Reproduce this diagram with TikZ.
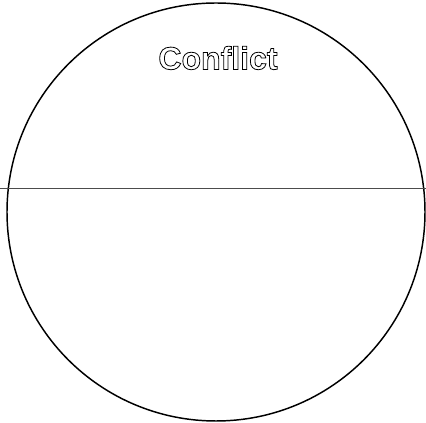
\documentclass[tikz,border=0pt]{standalone}
\usepackage{fontspec}
\setmainfont{Liberation Sans}
\usepackage{tikz}
\usetikzlibrary{positioning}

\newcommand{\hollowtext}[1]{\special{pdf:literal direct 1 Tr 0.6 w}#1\special{pdf:literal direct 0 Tr}}

\begin{document}
\begin{tikzpicture}[
    x=0.75pt, y=-0.75pt,
    ring/.style={draw, circle, line width=1.1pt, minimum size=313.5pt, inner sep=0pt},
    divider/.style={draw=black!70, line width=0.6pt},
    title/.style={font=\bfseries\fontsize{24}{28}\selectfont}
]
    \useasboundingbox (0,0) rectangle (426,423);
    \node[ring] (circle) at (216,212) {};
    \coordinate (west) at (0,188);
    \coordinate (east) at (426,188);
    \node[title] (conflict) at (218,58) {\hollowtext{Conflict}};

    \draw[divider] (west) -- (east);
\end{tikzpicture}
\end{document}
